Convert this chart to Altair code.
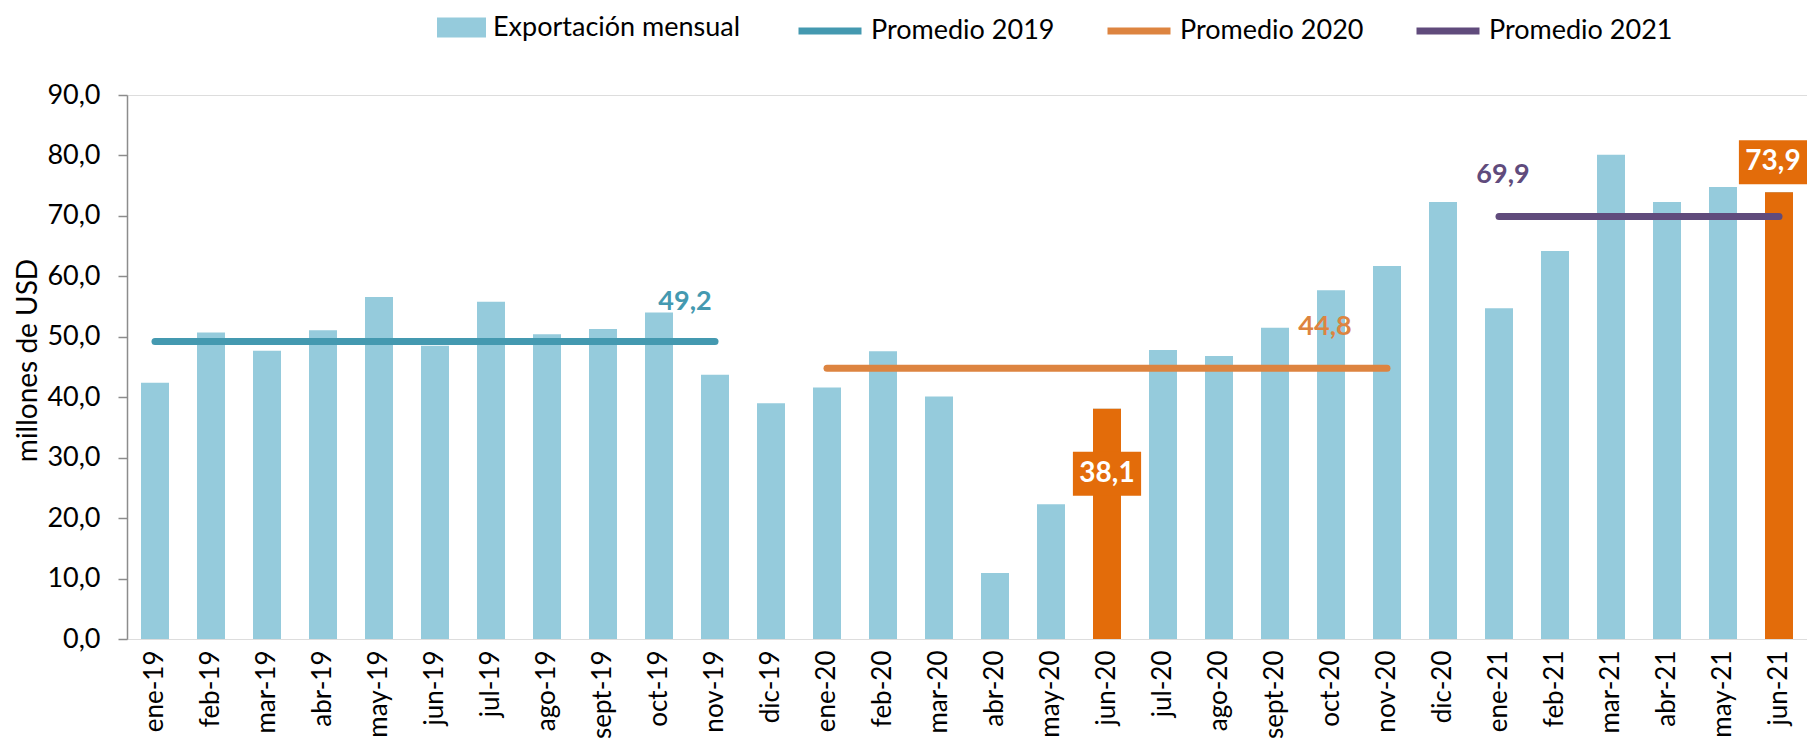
import altair as alt
import pandas as pd

# ---------------- data ----------------
months = ["ene-19", "feb-19", "mar-19", "abr-19", "may-19", "jun-19", "jul-19", "ago-19",
          "sept-19", "oct-19", "nov-19", "dic-19", "ene-20", "feb-20", "mar-20", "abr-20",
          "may-20", "jun-20", "jul-20", "ago-20", "sept-20", "oct-20", "nov-20", "dic-20",
          "ene-21", "feb-21", "mar-21", "abr-21", "may-21", "jun-21"]
exports = [42.4, 50.7, 47.7, 51.1, 56.6, 48.5, 55.8, 50.4, 51.3, 54.0, 43.7, 39.0,
           41.6, 47.6, 40.1, 10.9, 22.3, 38.1, 47.8, 46.8, 51.5, 57.7, 61.7, 72.3,
           54.7, 64.2, 80.1, 72.3, 74.8, 73.9]

highlight_months = ["jun-20", "jun-21"]
highlight_labels = ["38,1", "73,9"]

avg_series = ["Promedio 2019", "Promedio 2020", "Promedio 2021"]
avg_values = [49.2, 44.8, 69.9]
avg_start = ["ene-19", "ene-20", "ene-21"]
avg_end = ["nov-19", "nov-20", "jun-21"]
avg_labels = ["49,2", "44,8", "69,9"]
avg_label_month = ["oct-19", "oct-20", "ene-21"]

bar_series = ["Exportación mensual"]
bar_color = "#95CBDC"
avg_colors = ["#4499B0", "#DD8440", "#604B7C"]
highlight_color = "#E36C0A"

FONT = "Lato"

bars_df = pd.DataFrame({"mes": months, "valor": exports, "serie": bar_series[0]})
avg_df = pd.DataFrame({"serie": avg_series, "valor": avg_values, "inicio": avg_start,
                       "fin": avg_end, "label": avg_labels, "mes": avg_label_month})
hl_df = pd.DataFrame({"mes": highlight_months,
                      "valor": [exports[months.index(m)] for m in highlight_months],
                      "label": highlight_labels})

# ---------------- encodings ----------------
x_scale = alt.Scale(domain=months, paddingInner=0.5, paddingOuter=0.25)
x_axis = alt.Axis(title=None, labelAngle=270, labelAlign="right", labelBaseline="middle",
                  labelPadding=11, labelFontSize=26, labelFont=FONT, labelColor="black",
                  domain=False, ticks=False, labelOverlap=False)
y_scale = alt.Scale(domain=[0, 90], nice=False)
y_axis = alt.Axis(title="millones de USD", values=list(range(0, 91, 10)),
                  labelExpr="replace(format(datum.value, '.1f'), '.', ',')",
                  labelFont=FONT, labelFontSize=27, labelColor="black", labelPadding=18,
                  tickSize=9, tickColor="#8C8C8C", tickWidth=1.5,
                  domainColor="#8C8C8C", domainWidth=1.5, grid=False,
                  titleFont=FONT, titleFontSize=28, titleFontWeight="normal",
                  titleColor="black", titleX=-99, titleY=265, titleAngle=270,
                  titleAlign="center", titleBaseline="middle")

fill_enc = alt.Fill(
    "serie:N",
    scale=alt.Scale(domain=bar_series, range=[bar_color]),
    legend=alt.Legend(
        title=None, orient="none", legendX=310, legendY=-92, direction="horizontal",
        labelFont=FONT, labelFontSize=27, labelColor="black", labelOffset=7,
        labelLimit=0, symbolType="M-1,-0.41H1V0.41H-1Z", symbolSize=2401,
        symbolStrokeWidth=0, symbolOpacity=1,
    ),
)

stroke_enc = alt.Stroke(
    "serie:N",
    scale=alt.Scale(domain=avg_series, range=avg_colors),
    legend=alt.Legend(
        title=None, orient="none", legendX=668, legendY=-99, direction="horizontal",
        columnPadding=38, labelFont=FONT, labelFontSize=27, labelColor="black",
        labelOffset=6, labelLimit=0, symbolType="stroke", symbolSize=3969,
        symbolStrokeWidth=7, symbolOpacity=1,
    ),
)

bars = alt.Chart(bars_df).mark_bar(opacity=1).encode(
    x=alt.X("mes:N", scale=x_scale, axis=x_axis),
    y=alt.Y("valor:Q", scale=y_scale, axis=y_axis),
    fill=fill_enc,
)

hl_bars = alt.Chart(hl_df).mark_bar(color=highlight_color, opacity=1).encode(
    x=alt.X("mes:N", scale=x_scale),
    y=alt.Y("valor:Q", scale=y_scale),
)

rules = alt.Chart(avg_df).mark_rule(strokeWidth=7, strokeCap="round", opacity=1).encode(
    x=alt.X("inicio:N", scale=x_scale),
    x2="fin:N",
    y=alt.Y("valor:Q", scale=y_scale),
    stroke=stroke_enc,
)

layers = [bars, hl_bars, rules]

# average value labels (pixel offsets are styling)
avg_offsets = {"49,2": (26, -40), "44,8": (-6, -41), "69,9": (4, -41)}
for lbl, col in zip(avg_labels, avg_colors):
    dx, dy = avg_offsets[lbl]
    layers.append(
        alt.Chart(avg_df).transform_filter(alt.datum.label == lbl).mark_text(
            font=FONT, fontSize=27, fontWeight="bold", color=col, dx=dx, dy=dy,
            baseline="middle", align="center"
        ).encode(x=alt.X("mes:N", scale=x_scale), y=alt.Y("valor:Q", scale=y_scale), text="label:N")
    )

# highlighted value boxes
hl_offsets = {"38,1": (0, 65), "73,9": (-6, -30)}
box_shape = "M-1.55,-1H1.55V1H-1.55Z"
for lbl in highlight_labels:
    dx, dy = hl_offsets[lbl]
    base = alt.Chart(hl_df).transform_filter(alt.datum.label == lbl)
    layers.append(
        base.mark_point(shape=box_shape, size=1936, filled=True, opacity=1,
                        color=highlight_color, strokeWidth=0, xOffset=dx, yOffset=dy)
        .encode(x=alt.X("mes:N", scale=x_scale), y=alt.Y("valor:Q", scale=y_scale))
    )
    layers.append(
        base.mark_text(font=FONT, fontSize=28, fontWeight="bold", color="white",
                       dx=dx, dy=dy, baseline="middle", align="center")
        .encode(x=alt.X("mes:N", scale=x_scale), y=alt.Y("valor:Q", scale=y_scale), text="label:N")
    )

chart = alt.layer(*layers).resolve_legend(fill="independent", stroke="independent").properties(
    width=1680, height=544,
    autosize=alt.AutoSizeParams(type="none"),
    padding={"left": 119, "top": 87, "right": 0, "bottom": 101},
).configure_view(stroke=None).configure(background="white")

chart.save("out.html", embed_options={"renderer": "svg", "actions": False})
